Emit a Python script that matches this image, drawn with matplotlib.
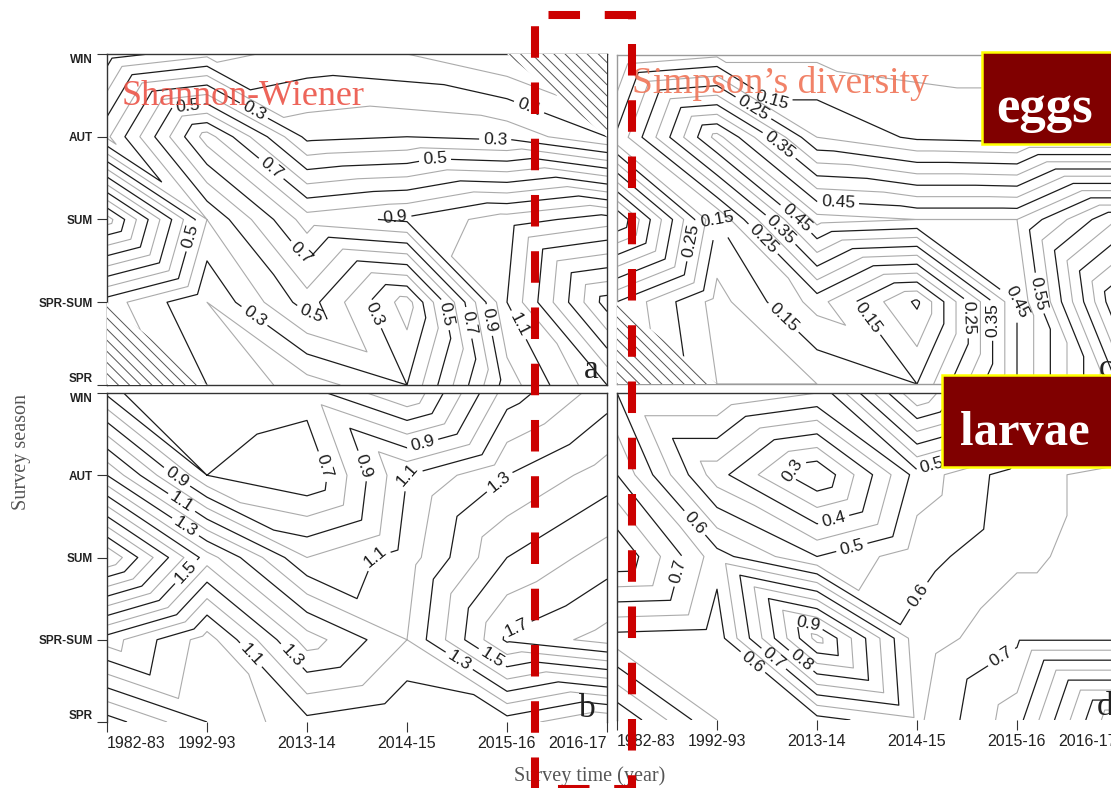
import numpy as np
import matplotlib
matplotlib.use("Agg")
import matplotlib.pyplot as plt
import matplotlib.tri as mtri
from matplotlib import font_manager
from matplotlib.patches import Polygon, Rectangle
from matplotlib.lines import Line2D

W, H = 1111, 788

YEARS = ["1982-83", "1992-93", "2013-14", "2014-15", "2015-16", "2016-17"]
SEASONS = ["SPR", "SPR-SUM", "SUM", "AUT", "WIN"]
nan = np.nan

# index values per survey; rows SPR .. WIN, columns follow YEARS (nan = no survey)
SHANNON_EGGS = [
    [nan, 0.30, 0.15, 0.30, 0.95, 1.30],
    [0.45, 0.20, 0.55, 0.15, 1.10, 1.75],
    [1.25, 0.40, 0.85, 0.92, 1.05, 1.15],
    [0.18, 0.85, 0.27, 0.30, 0.27, 0.10],
    [-0.15, -0.03, 0.03, 0.00, -0.10, nan],
]
SHANNON_LARVAE = [
    [0.65, 0.90, 1.07, 1.00, 1.05, 0.90],
    [1.25, 0.95, 1.45, 1.20, 1.72, 1.84],
    [2.10, 1.45, 1.00, 1.15, 1.50, 1.65],
    [1.30, 0.70, 0.60, 1.10, 1.30, 1.45],
    [0.68, 0.80, 0.75, 0.50, 1.05, 1.25],
]
SIMPSON_EGGS = [
    [nan, 0.10, 0.10, 0.15, 0.45, 0.75],
    [0.25, 0.08, 0.22, 0.04, 0.45, 0.90],
    [0.60, 0.15, 0.52, 0.50, 0.50, 0.70],
    [0.16, 0.52, 0.20, 0.14, 0.13, 0.13],
    [0.05, 0.09, 0.09, 0.08, 0.08, nan],
]
SIMPSON_LARVAE = [
    [0.35, 0.55, 0.58, 0.64, 0.78, 1.10],
    [0.58, 0.57, 0.97, 0.62, 0.69, 0.69],
    [0.85, 0.62, 0.50, 0.58, 0.64, 0.67],
    [0.70, 0.42, 0.25, 0.52, 0.63, 0.67],
    [0.60, 0.60, 0.55, 0.20, 0.45, 0.60],
]

# contour values written on each panel: (year index, season index, level)
LABELS_A = [(0.81, 3.35, 0.5), (1.43, 3.23, 0.3), (4.18, 3.23, 0.1), (3.88, 2.89, 0.3),
            (3.28, 2.76, 0.5), (1.61, 2.57, 0.7), (2.88, 2.07, 0.9), (0.81, 1.81, 0.5),
            (1.88, 1.53, 0.7), (1.43, 0.76, 0.3), (2.01, 0.75, 0.5), (2.71, 0.88, 0.3),
            (3.33, 0.84, 0.5), (3.48, 0.72, 0.7), (3.80, 0.78, 0.9), (4.30, 0.84, 1.1)]
LABELS_B = [(0.71, 3.00, 0.9), (0.73, 2.64, 1.1), (0.73, 2.27, 1.3), (0.77, 1.85, 1.5),
            (2.13, 3.09, 0.7), (2.51, 3.09, 0.9), (2.68, 3.28, 1.1), (3.18, 3.28, 0.9),
            (3.83, 3.06, 1.3), (2.65, 2.13, 1.1), (4.05, 1.28, 1.7), (1.38, 0.75, 1.1),
            (1.78, 0.73, 1.3), (3.51, 0.72, 1.3), (3.85, 0.78, 1.5)]
LABELS_C = [(1.51, 3.25, 0.15), (1.30, 3.23, 0.25), (1.56, 2.81, 0.35), (4.10, 2.87, 0.15),
            (2.21, 2.18, 0.45), (0.81, 2.24, 0.15), (0.70, 1.75, 0.25), (1.78, 1.99, 0.45),
            (1.63, 1.87, 0.35), (1.45, 1.75, 0.25), (1.66, 0.80, 0.15), (2.55, 0.84, 0.15),
            (3.38, 0.81, 0.25), (3.66, 0.78, 0.35), (4.08, 1.08, 0.45), (4.33, 1.12, 0.55)]
LABELS_D = [(1.75, 3.06, 0.3), (2.18, 2.39, 0.4), (2.40, 1.87, 0.5), (0.73, 2.36, 0.6),
            (0.65, 1.81, 0.7), (2.96, 1.57, 0.6), (3.13, 3.20, 0.5), (1.91, 1.19, 0.9),
            (1.36, 0.71, 0.6), (1.58, 0.77, 0.7), (1.83, 0.71, 0.8), (3.83, 0.80, 0.7)]

installed = {f.name for f in font_manager.fontManager.ttflist}
SANS = "Liberation Sans Narrow" if "Liberation Sans Narrow" in installed else "Liberation Sans"
SERIF = "Liberation Serif"

plt.rcParams["font.family"] = SANS
plt.rcParams["hatch.linewidth"] = 0.7
plt.rcParams["lines.scale_dashes"] = False
plt.rcParams["contour.negative_linestyle"] = "solid"


def fx(px):
    return px / W


def fy(py):
    return 1 - py / H


def axes_box(left, top, right, bottom):
    return [fx(left), fy(bottom), (right - left) / W, (bottom - top) / H]


# survey grid split into triangles along the "\" diagonal of each cell
NX, NY = len(YEARS), len(SEASONS)
gx, gy = np.meshgrid(np.arange(NX), np.arange(NY))
tris = []
for j in range(NY - 1):
    for i in range(NX - 1):
        bl = j * NX + i
        tris += [[bl, bl + 1, bl + NX], [bl + 1, bl + NX + 1, bl + NX]]
tris = np.array(tris)


def contour_panel(ax, grid, levels, is_dark, spots):
    z = np.array(grid, dtype=float).ravel()
    missing = np.isnan(z)[tris].any(axis=1)
    tri = mtri.Triangulation(gx.ravel(), gy.ravel(), tris, mask=missing)
    z = np.nan_to_num(z)
    levels = np.round(levels, 3)
    light = [lv for lv in levels if not is_dark(lv)]
    ax.set_xlim(0, NX - 1)
    ax.set_ylim(0, NY - 1)
    ax.tricontour(tri, z, levels=light, colors="#ababab", linewidths=0.8)
    for lv in levels:
        if not is_dark(lv):
            continue
        cs = ax.tricontour(tri, z, levels=[lv], colors="#1c1c1c", linewidths=0.9)
        where = [(x, y) for x, y, v in spots if abs(v - lv) < 1e-6]
        if where and len(cs.allsegs[0]) > 0:
            cs.clabel(inline=True, inline_spacing=4, fontsize=12.5,
                      fmt=lambda v: f"{v:g}", manual=where)
    # hatch the triangles that touch a missing survey
    for t in tris[missing]:
        ax.add_patch(Polygon(np.c_[gx.ravel()[t], gy.ravel()[t]], closed=True,
                             facecolor="white", edgecolor="#555555", linewidth=0,
                             hatch="\\\\\\", zorder=3))


def odd_tenth(v):
    return int(round(v * 10)) % 2 == 1


def half_step(v):
    return int(round(v * 100)) % 10 == 5


def whole_tenth(v):
    return int(round(v * 100)) % 10 == 0


fig = plt.figure(figsize=(W / 100, H / 100), dpi=100)
ax_a = fig.add_axes(axes_box(107, 54, 607, 385))
ax_b = fig.add_axes(axes_box(107, 393, 607, 722))
ax_c = fig.add_axes(axes_box(617, 55, 1117, 384))
ax_d = fig.add_axes(axes_box(617, 393, 1117, 720))

contour_panel(ax_a, SHANNON_EGGS, np.arange(-0.3, 1.95, 0.1), odd_tenth, LABELS_A)
contour_panel(ax_b, SHANNON_LARVAE, np.arange(0.4, 2.45, 0.1), odd_tenth, LABELS_B)
contour_panel(ax_c, SIMPSON_EGGS, np.arange(0.0, 1.0, 0.05), half_step, LABELS_C)
contour_panel(ax_d, SIMPSON_LARVAE, np.arange(0.05, 1.2, 0.05), whole_tenth, LABELS_D)

for ax in (ax_a, ax_b, ax_c, ax_d):
    ax.tick_params(direction="out", length=7, width=0.8, color="#333333", pad=3)
    for sp in ax.spines.values():
        sp.set_linewidth(1.0)
        sp.set_color("#333333")

for sp in ax_c.spines.values():
    sp.set_color("#9a9a9a")
ax_b.spines["bottom"].set_visible(False)
ax_d.spines["bottom"].set_visible(False)

# season axis on the left panels
for ax in (ax_a, ax_b):
    ax.set_yticks(range(NY))
    labels = ax.set_yticklabels(SEASONS, fontsize=8.5, fontweight="bold", color="#222222")
    labels[0].set_va("bottom")
    labels[-1].set_va("top")
for ax in (ax_c, ax_d):
    ax.set_yticks([])
for ax in (ax_a, ax_c):
    ax.set_xticks([])

# survey years on the lower panels
for ax in (ax_b, ax_d):
    ax.set_xticks(range(NX))
    labels = ax.set_xticklabels(YEARS, fontsize=11.5, color="#222222")
    labels[0].set_ha("left")
    labels[-1].set_ha("right")

for ax, letter, x, y in ((ax_a, "a", 0.984, 0.021), (ax_b, "b", 0.978, 0.016),
                         (ax_c, "c", 0.992, 0.021), (ax_d, "d", 0.992, 0.016)):
    ax.text(x, y, letter, transform=ax.transAxes, ha="right", va="baseline",
            family=SERIF, fontsize=24, color="#222222", zorder=6)

ax_a.text(fx(122), fy(105), "Shannon-Wiener", transform=fig.transFigure,
          family=SERIF, fontsize=26, color="#EC5448", alpha=0.9, va="baseline", zorder=6)
ax_c.text(fx(632), fy(93), "Simpson\u2019s diversity", transform=fig.transFigure,
          family=SERIF, fontsize=27, color="#F07457", alpha=0.9, va="baseline", zorder=6)

fig.text(fx(22), fy(452), "Survey season", rotation=90, ha="center", va="center",
         family=SERIF, fontsize=14.5, color="#555555")
fig.text(fx(590), fy(776), "Survey time (year)", ha="center", va="center",
         family=SERIF, fontsize=14.5, color="#555555")

# life stage tags
for (left, top, bottom, text, cx, base, size) in (
        (982, 52, 144, "eggs", 1045, 122, 38),
        (942, 375, 467, "larvae", 1025, 445, 35)):
    fig.add_artist(Rectangle((fx(left), fy(bottom)), (1125 - left) / W, (bottom - top) / H,
                             transform=fig.transFigure, facecolor="#800000",
                             edgecolor="#FFFF00", linewidth=1.8, zorder=15))
    fig.text(fx(cx), fy(base), text, ha="center", va="baseline", family=SERIF,
             fontweight="bold", fontsize=size, color="white", zorder=16)

# dashed frame around the 2015-16 / 2016-17 boundary
frame_x = [535, 535, 632, 632, 535]
frame_y = [789, 15, 15, 789, 789]
fig.add_artist(Line2D([fx(v) for v in frame_x], [fy(v) for v in frame_y],
                      transform=fig.transFigure, color="#CC0000", linewidth=5.8,
                      linestyle=(0, (22.7, 17.8)), dash_capstyle="butt",
                      dash_joinstyle="miter", zorder=20))

fig.savefig("out.png", dpi=100, facecolor="white")
